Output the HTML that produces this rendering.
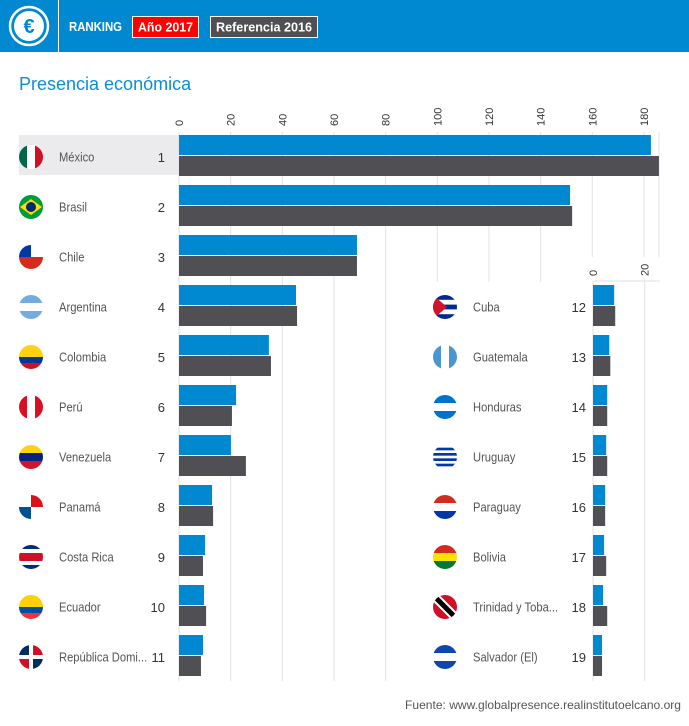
<!DOCTYPE html>
<html><head><meta charset="utf-8">
<style>
html,body{margin:0;padding:0;background:#fff;}
body{width:689px;height:721px;overflow:hidden;font-family:"Liberation Sans",sans-serif;}
svg text{font-family:"Liberation Sans",sans-serif;}
</style></head>
<body>
<svg id="chart" width="689" height="721" xmlns="http://www.w3.org/2000/svg">
  <rect x="0" y="0" width="689" height="52" fill="#0088d1"/>
  <g>
    <circle cx="29" cy="26" r="19" fill="none" stroke="#fff" stroke-width="2.5"/>
    <circle cx="29" cy="26" r="15" fill="#fff"/>
    <text x="29" y="33" text-anchor="middle" font-size="20" font-weight="bold" fill="#0088d1">€</text>
  </g>
  <line x1="58.5" y1="0" x2="58.5" y2="52" stroke="#fff" stroke-width="1"/>
  <text x="69" y="31" font-size="13" font-weight="bold" fill="#fff" textLength="53" lengthAdjust="spacingAndGlyphs">RANKING</text>
  <g>
    <rect x="132.5" y="16.5" width="66" height="21" fill="#f00" stroke="#fff"/>
    <text x="138" y="31.5" font-size="13" font-weight="bold" fill="#fff" textLength="55" lengthAdjust="spacingAndGlyphs">Año 2017</text>
  </g>
  <g>
    <rect x="210.5" y="16.5" width="107" height="21" fill="#504f53" stroke="#fff"/>
    <text x="216" y="31.5" font-size="13" font-weight="bold" fill="#fff" textLength="96" lengthAdjust="spacingAndGlyphs">Referencia 2016</text>
  </g>
  <text x="19" y="90" font-size="18" fill="#0a8ed8">Presencia económica</text>
  <rect x="19" y="135" width="160" height="40" fill="#ebebed"/>
  <g id="grid"></g><g id="bars"></g><g id="labels"></g>
  <text x="681" y="709" text-anchor="end" font-size="12" fill="#555" textLength="276" lengthAdjust="spacingAndGlyphs">Fuente: www.globalpresence.realinstitutoelcano.org</text>
</svg>
<script>
const leftCountries=["México","Brasil","Chile","Argentina","Colombia","Perú","Venezuela","Panamá","Costa Rica","Ecuador","República Domi..."];
const leftRanks=[1,2,3,4,5,6,7,8,9,10,11];
const left2017=[182.7,151.4,68.9,45.3,34.8,22.1,20.1,12.8,10.1,9.7,9.3];
const left2016=[185.8,152.2,68.9,45.7,35.6,20.5,25.9,13.2,9.3,10.5,8.5];
const rightCountries=["Cuba","Guatemala","Honduras","Uruguay","Paraguay","Bolivia","Trinidad y Toba...","Salvador (El)"];
const rightRanks=[12,13,14,15,16,17,18,19];
const right2017=[8.2,6.3,5.5,5.1,4.7,4.3,3.9,3.5];
const right2016=[8.6,6.7,5.5,5.5,4.7,5.1,5.5,3.5];
const leftTicks=[0,20,40,60,80,100,120,140,160,180];
const rightTicks=[0,20];

const NS="http://www.w3.org/2000/svg";
function mk(tag,attrs,parent){const e=document.createElementNS(NS,tag);for(const k in attrs)e.setAttribute(k,attrs[k]);parent.appendChild(e);return e;}
const grid=document.getElementById('grid'),bars=document.getElementById('bars'),labels=document.getElementById('labels');
const K=2.583;
const xL=v=>179+v*K;
const xR=v=>593+v*K;
const rowL=i=>157+50*i;
const rowR=i=>307+50*i;

const flags={
"México":["v","#006847","#fff","#ce1126"],"Brasil":["br"],"Chile":["cl"],
"Argentina":["h","#74acdf","#fff","#74acdf"],"Colombia":["h","#fcd116","#fcd116","#003893","#ce1126"],
"Perú":["v","#d91023","#fff","#d91023"],"Venezuela":["h","#fcd116","#00247d","#cf142b"],
"Panamá":["pa"],"Costa Rica":["h","#002b7f","#fff","#ce1126","#ce1126","#fff","#002b7f"],
"Ecuador":["h","#ffd100","#ffd100","#034ea2","#ef3340"],"República Domi...":["do"],
"Cuba":["cu"],"Guatemala":["v","#4997d0","#fff","#4997d0"],"Honduras":["h","#0073cf","#fff","#0073cf"],
"Uruguay":["h","#fff","#0038a8","#fff","#0038a8","#fff","#0038a8","#fff","#0038a8","#fff"],
"Paraguay":["h","#d52b1e","#fff","#0038a8"],"Bolivia":["h","#d52b1e","#f9e300","#007934"],
"Trinidad y Toba...":["tt"],"Salvador (El)":["h","#0f47af","#fff","#0f47af"]};
let fid=0;
function flag(name,cx,cy){
  const r=12,g=mk('g',{},labels);
  
  
  const id='c'+(fid++);
  const cp=mk('clipPath',{id:id},g);mk('circle',{cx:cx,cy:cy,r:r},cp);
  const f=mk('g',{'clip-path':'url(#'+id+')'},g);
  const s=flags[name],x0=cx-r,y0=cy-r,d=2*r;
  if(s[0]=="h"||s[0]=="v"){const c=s.slice(1),n=c.length;c.forEach((col,k)=>{
    if(s[0]=="h")mk('rect',{x:x0,y:y0+k*d/n,width:d,height:d/n+0.5,fill:col},f);
    else mk('rect',{x:x0+k*d/n,y:y0,width:d/n+0.5,height:d,fill:col},f);});}
  else if(s[0]=="br"){mk('rect',{x:x0,y:y0,width:d,height:d,fill:'#009c3b'},f);mk('polygon',{points:`${cx-11},${cy} ${cx},${cy-8} ${cx+11},${cy} ${cx},${cy+8}`,fill:'#ffdf00'},f);mk('circle',{cx:cx,cy:cy,r:5,fill:'#002776'},f);}
  else if(s[0]=="cl"){mk('rect',{x:x0,y:y0,width:d,height:d,fill:'#fff'},f);mk('rect',{x:x0,y:cy,width:d,height:r,fill:'#d52b1e'},f);mk('rect',{x:x0,y:y0,width:r,height:r,fill:'#0039a6'},f);}
  else if(s[0]=="pa"){mk('rect',{x:x0,y:y0,width:d,height:d,fill:'#fff'},f);mk('rect',{x:cx,y:y0,width:r,height:r,fill:'#da121a'},f);mk('rect',{x:x0,y:cy,width:r,height:r,fill:'#005293'},f);}
  else if(s[0]=="do"){mk('rect',{x:x0,y:y0,width:d,height:d,fill:'#fff'},f);mk('rect',{x:x0,y:y0,width:r-2,height:r-2,fill:'#002d62'},f);mk('rect',{x:cx+2,y:cy+2,width:r,height:r,fill:'#002d62'},f);mk('rect',{x:cx+2,y:y0,width:r,height:r-2,fill:'#ce1126'},f);mk('rect',{x:x0,y:cy+2,width:r-2,height:r,fill:'#ce1126'},f);}
  else if(s[0]=="cu"){["#002a8f","#fff","#002a8f","#fff","#002a8f"].forEach((c,k)=>mk('rect',{x:x0,y:y0+k*d/5,width:d,height:d/5+0.5,fill:c},f));mk('polygon',{points:`${x0},${y0} ${cx+2},${cy} ${x0},${y0+d}`,fill:'#cf142b'},f);}
  else if(s[0]=="tt"){mk('rect',{x:x0,y:y0,width:d,height:d,fill:'#ce1126'},f);mk('line',{x1:x0,y1:y0,x2:x0+d,y2:y0+d,stroke:'#fff',"stroke-width":9},f);mk('line',{x1:x0,y1:y0,x2:x0+d,y2:y0+d,stroke:'#000',"stroke-width":5},f);}
}

leftTicks.forEach(t=>{
  const l=mk('line',{x1:xL(t),y1:132,x2:xL(t),y2:681,stroke:'#e2e2e2','stroke-width':1},grid);
  
  
  const tx=mk('text',{x:0,y:0,transform:`translate(${xL(t)+4},126) rotate(-90)`,'font-size':11,fill:'#333'},grid);
  tx.textContent=t;
  
  
});
mk('line',{x1:659,y1:132,x2:659,y2:281,stroke:'#e2e2e2'},grid);
mk('rect',{x:585,y:257,width:104,height:425,fill:'#fff'},grid);
mk('rect',{x:400,y:282,width:200,height:400,fill:'#fff'},grid);
mk('line',{x1:593,y1:281,x2:660,y2:281,stroke:'#e2e2e2'},grid);
rightTicks.forEach(t=>{
  const l=mk('line',{x1:xR(t),y1:281,x2:xR(t),y2:681,stroke:'#e2e2e2','stroke-width':1},grid);
  
  
  const tx=mk('text',{x:0,y:0,transform:`translate(${xR(t)+4},276) rotate(-90)`,'font-size':11,fill:'#333'},grid);
  tx.textContent=t;
  
  
});

function drawSet(names,ranks,a,b,xf,rowf,fx,nx,rx,pfx){
  names.forEach((n,i)=>{
    const cy=rowf(i);
    const b1=mk('rect',{x:xf(0),y:cy-22,width:xf(a[i])-xf(0),height:20,fill:'#0088d1'},bars);
    
    
    const b2=mk('rect',{x:xf(0),y:cy-1,width:xf(b[i])-xf(0),height:20,fill:'#504f53'},bars);
    
    
    flag(n,fx,cy);
    const t=mk('text',{x:nx,y:cy+4.5,'font-size':13,fill:'#555'},labels);
    t.textContent=n;
    
    
    const w=t.getComputedTextLength();
    if(w>0){t.setAttribute('textLength',(w*0.86).toFixed(1));t.setAttribute('lengthAdjust','spacingAndGlyphs');}
    const r=mk('text',{x:rx,y:cy+5,'font-size':13,fill:'#333','text-anchor':'end'},labels);
    r.textContent=ranks[i];
    
    
  });
}
drawSet(leftCountries,leftRanks,left2017,left2016,xL,rowL,31,59,165,'l');
drawSet(rightCountries,rightRanks,right2017,right2016,xR,rowR,445,473,586,'r');
</script>
</body></html>
